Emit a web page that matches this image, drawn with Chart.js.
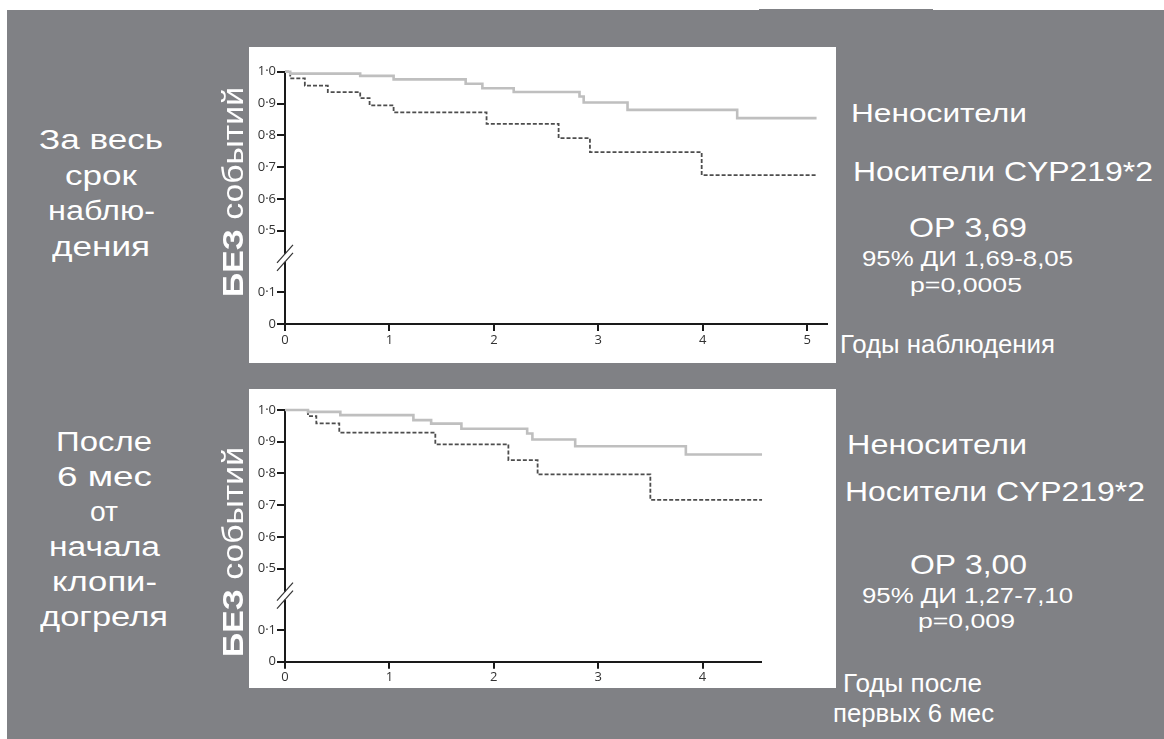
<!DOCTYPE html>
<html><head><meta charset="utf-8">
<script src="https://cdn.jsdelivr.net/npm/chart.js@4/dist/chart.umd.min.js"></script>
<style>
html,body{margin:0;padding:0;background:#fff;width:1164px;height:739px;overflow:hidden;position:relative;}
#bg{position:absolute;left:7px;top:10px;width:1157px;height:729px;background:#808185;}
.panel{position:absolute;background:#fff;}
canvas{position:absolute;}
.t{position:absolute;white-space:nowrap;color:#fff;font-family:"Liberation Sans",Arial,sans-serif;line-height:1;transform-origin:0 0;}
</style></head><body>
<div id="bg"></div>
<div style="position:absolute;left:759px;top:9px;width:174px;height:1px;background:#808185"></div>
<div class="panel" style="left:249px;top:47px;width:587px;height:316px"></div>
<div class="panel" style="left:249px;top:389px;width:587px;height:299px"></div>
<canvas id="c1" width="587" height="316" style="left:249px;top:47px"></canvas>
<canvas id="c2" width="587" height="299" style="left:249px;top:389px"></canvas>
<script>
// ---------- data ----------
const xTicksTop = [0, 1, 2, 3, 4, 5];
const xTicksBottom = [0, 1, 2, 3, 4];
const yTickValues = [0, 0.1, 0.5, 0.6, 0.7, 0.8, 0.9, 1.0];
const yTickLabels = ['0', '0·1', '0·5', '0·6', '0·7', '0·8', '0·9', '1·0'];

// Top: whole follow-up period
const topNonCarrierT = [0, 0.05, 0.72, 1.04, 1.73, 1.89, 2.19, 2.82, 2.86, 3.28, 4.33, 5.09];
const topNonCarrierS = [1.0, 0.994, 0.987, 0.976, 0.962, 0.948, 0.936, 0.922, 0.903, 0.880, 0.854, 0.854];
const topCarrierT = [0, 0.05, 0.19, 0.41, 0.72, 0.81, 1.04, 1.93, 2.62, 2.92, 3.99, 5.09];
const topCarrierS = [1.0, 0.979, 0.956, 0.936, 0.917, 0.894, 0.872, 0.836, 0.791, 0.747, 0.675, 0.675];

// Bottom: after first 6 months
const botNonCarrierT = [0, 0.22, 0.53, 1.23, 1.40, 1.69, 2.32, 2.37, 2.78, 3.84, 4.57];
const botNonCarrierS = [1.0, 0.994, 0.984, 0.968, 0.957, 0.941, 0.926, 0.907, 0.886, 0.860, 0.860];
const botCarrierT = [0, 0.22, 0.30, 0.52, 1.44, 2.14, 2.42, 3.50, 4.57];
const botCarrierS = [1.0, 0.981, 0.958, 0.929, 0.892, 0.842, 0.797, 0.717, 0.717];

// broken y axis: values at/below BREAK_LOW are shifted up by BREAK_SHIFT
const BREAK_LOW = 0.15, BREAK_SHIFT = 0.207, BREAK_MARK = 0.415;
const disp = v => (v <= BREAK_LOW ? v + BREAK_SHIFT : v);

const breakPlugin = {
  id: 'axisBreak',
  afterDraw(chart) {
    const ctx = chart.ctx, y = chart.scales.y;
    const x0 = chart.chartArea.left, yc = y.getPixelForValue(BREAK_MARK);
    ctx.save();
    ctx.fillStyle = '#fff';
    ctx.fillRect(x0 - 3, yc - 4, 6, 8);
    ctx.strokeStyle = '#333';
    ctx.lineWidth = 1.2;
    for (const d of [-4, 4]) {
      ctx.beginPath();
      ctx.moveTo(x0 - 8, yc + d + 9);
      ctx.lineTo(x0 + 8, yc + d - 9);
      ctx.stroke();
    }
    ctx.restore();
  }
};

function series(t, s, color, width, dash) {
  return {
    data: t.map((x, i) => ({ x: x, y: disp(s[i]) })),
    stepped: 'before', borderColor: color, borderWidth: width, borderDash: dash,
    pointRadius: 0, fill: false, tension: 0, clip: false
  };
}

function kmChart(id, sets, xMax, xTicks, pad, xAxisH) {
  const axisColor = '#1a1a1a';
  const tickFont = { family: '"Open Sans", "DejaVu Sans", sans-serif', size: 13, weight: 'normal' };
  return new Chart(document.getElementById(id), {
    type: 'line',
    data: { datasets: sets },
    options: {
      responsive: false, animation: false, devicePixelRatio: 1,
      layout: { padding: pad },
      plugins: { legend: { display: false }, tooltip: { enabled: false } },
      scales: {
        x: {
          type: 'linear', min: 0, max: xMax,
          afterBuildTicks: sc => { sc.ticks = xTicks.map(v => ({ value: v })); },
          afterFit: sc => { sc.height = xAxisH; },
          border: { display: true, color: axisColor, width: 2 },
          grid: { display: true, drawOnChartArea: false, drawTicks: true, tickLength: 7, color: axisColor, lineWidth: 2 },
          ticks: { font: tickFont, color: '#333', padding: 1, maxRotation: 0, autoSkip: false, callback: v => String(v) }
        },
        y: {
          type: 'linear', min: disp(0), max: 1,
          afterBuildTicks: sc => { sc.ticks = yTickValues.map(v => ({ value: disp(v) })); },
          afterFit: sc => { sc.width = 36; },
          border: { display: true, color: axisColor, width: 2 },
          grid: { display: true, drawOnChartArea: false, drawTicks: true, tickLength: 8, color: axisColor, lineWidth: 2 },
          ticks: { font: tickFont, color: '#333', padding: 1, autoSkip: false, callback: (v, i) => yTickLabels[i] }
        }
      }
    },
    plugins: [breakPlugin]
  });
}

const SOLID = '#bfbfbf', DASHED = '#4d4d4d';
kmChart('c1', [
  series(topNonCarrierT, topNonCarrierS, SOLID, 2.6, []),
  series(topCarrierT, topCarrierS, DASHED, 1.8, [4, 2])
], 5.19, xTicksTop, { left: 0, top: 24.7, right: 9, bottom: 0 }, 39);

kmChart('c2', [
  series(botNonCarrierT, botNonCarrierS, SOLID, 2.6, []),
  series(botCarrierT, botCarrierS, DASHED, 1.8, [4, 2])
], 4.56, xTicksBottom, { left: 0, top: 21, right: 75, bottom: 0 }, 26.3);

// ---------- slide texts ----------
const ASC = 0.8465;
function addText(html, l, r, base, size) {
  const el = document.createElement('div');
  el.className = 't';
  el.innerHTML = html;
  el.style.fontSize = size + 'px';
  el.style.left = l + 'px';
  el.style.top = (base - ASC * size) + 'px';
  document.body.appendChild(el);
  const w = el.getBoundingClientRect().width;
  el.style.transform = 'scaleX(' + ((r - l) / w) + ')';
}
function addCentered(lines, cx, bases, widths, size) {
  lines.forEach((s, i) => addText(s, cx - widths[i] / 2, cx + widths[i] / 2, bases[i], size));
}
function addVertical(html, bx, cy, len, size) {
  const el = document.createElement('div');
  el.className = 't';
  el.innerHTML = html;
  el.style.fontSize = size + 'px';
  el.style.left = bx + 'px';
  el.style.top = cy + 'px';
  document.body.appendChild(el);
  const w = el.getBoundingClientRect().width;
  const s = len / w;
  el.style.transform = 'rotate(-90deg) translate(' + (-w * s / 2) + 'px,' + (-ASC * size) + 'px) scaleX(' + s + ')';
}

addCentered(['За весь', 'срок', 'наблю-', 'дения'], 101, [150, 186, 221, 257], [124, 72, 107, 98], 27);
addCentered(['После', '6 мес', 'от', 'начала', 'клопи-', 'догреля'], 104,
  [452, 487, 522, 557, 592, 627], [96, 95, 28, 111, 105, 128], 27);

addVertical('<b>БЕЗ</b> событий', 244, 192, 210, 29);
addVertical('<b>БЕЗ</b> событий', 244, 552, 210, 29);

addText('Неносители', 851, 1027, 122, 26);
addText('Носители CYP219*2', 853, 1153, 182, 28);
addText('ОР 3,69', 909, 1027, 238, 28);
addText('95% ДИ 1,69-8,05', 862, 1073, 267, 22);
addText('p=0,0005', 910, 1022, 292, 21);
addText('Годы наблюдения', 840, 1055, 353, 25);

addText('Неносители', 847, 1027, 455, 27);
addText('Носители CYP219*2', 845, 1145, 502, 28);
addText('ОР 3,00', 910, 1027, 575, 28);
addText('95% ДИ 1,27-7,10', 862, 1073, 604, 22);
addText('p=0,009', 918, 1015, 628, 21);
addText('Годы после', 843, 982, 692, 25);
addText('первых 6 мес', 833, 994, 722, 25);
</script>
</body></html>
